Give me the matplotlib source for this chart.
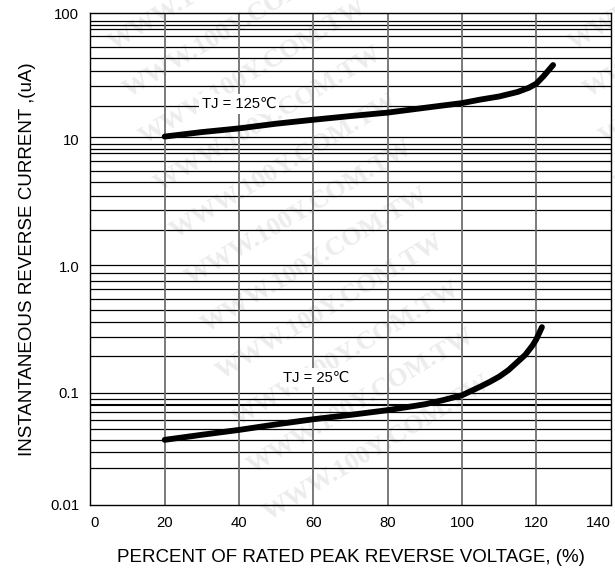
import numpy as np
import matplotlib.pyplot as plt
from matplotlib.ticker import NullLocator

plt.rcParams['font.family'] = ['Liberation Sans', 'DejaVu Sans']

# values
pct_125 = [20, 30, 40, 50, 60, 70, 80, 90, 100, 105, 110, 115, 118, 120, 122, 124.5]
cur_125 = [10.6, 11.5, 12.3, 13.4, 14.4, 15.4, 16.4, 17.9, 19.5, 20.8, 22.0, 23.9, 25.8, 27.8, 32.0, 39.0]

pct_25 = [20, 30, 40, 50, 60, 70, 80, 90, 95, 100, 105, 107.5, 110, 112.5, 115, 117, 119, 120, 121.5]
cur_25 = [0.0424, 0.0465, 0.0508, 0.0562, 0.0617, 0.0668, 0.0728, 0.081, 0.0875, 0.0955,
          0.112, 0.122, 0.134, 0.151, 0.176, 0.199, 0.237, 0.265, 0.33]

x_ticks = [0, 20, 40, 60, 80, 100, 120, 140]
y_ticks = [0.01302, 0.1, 1, 10, 100]
y_labels = ['0.01', '0.1', '1.0', '10', '100']

# the printed grid of the datasheet (not a clean log grid)
h_grid = [87.4, 80.8, 75.5, 66.2, 54.5, 44.1, 35.0, 26.5, 18.5,
          10.5, 9.21, 8.46, 7.79, 6.80, 5.67, 4.61, 3.61, 2.77, 1.93,
          1.02, 0.885, 0.769, 0.665, 0.554, 0.454, 0.363, 0.275, 0.195,
          0.1002, 0.0898, 0.0796, 0.0701, 0.0606, 0.0517, 0.0421, 0.034, 0.0256]

W, H = 615, 568
fig = plt.figure(figsize=(W / 100, H / 100), dpi=100)

# watermark
for i in range(-2, 11):
    for dx in (0, 460):
        fig.text((110 + 15.5 * i + dx) / W, 1 - (45 + 47 * i) / H, 'WWW.100Y.COM.TW',
                 rotation=31, rotation_mode='anchor', ha='left', va='center',
                 fontsize=19, family='Liberation Serif', weight='bold',
                 color='#ececec', zorder=-1)

ax = fig.add_axes([90.3 / W, 1 - 504.7 / H, 520.4 / W, 491.4 / H])
ax.patch.set_alpha(0)
ax.set_yscale('log')
ax.set_xlim(0, 140)
ax.set_ylim(y_ticks[0], 100)
ax.set_yticks(y_ticks, y_labels)
ax.yaxis.set_minor_locator(NullLocator())
ax.set_xticks(x_ticks)
ax.tick_params(length=0, pad=8, labelsize=10.7)
lbls = ax.get_xticklabels()
lbls[0].set_ha('left')
lbls[-1].set_ha('right')

for v in h_grid:
    ax.axhline(v, color='black', lw=1.5 if v == 0.0796 else 0.9, zorder=1)
for v in x_ticks[1:-1]:
    ax.axvline(v, color='#707070', lw=1.3, zorder=1)
for s in ax.spines.values():
    s.set_linewidth(1.0)

ax.plot(pct_125, cur_125, color='black', lw=4.2, solid_capstyle='round', zorder=3)
ax.plot(pct_25, cur_25, color='black', lw=4.2, solid_capstyle='round', zorder=3)

ax.text(40.1, 19.2, 'TJ = 125\u2103', fontsize=10.6, ha='center', va='center', zorder=2,
        bbox=dict(facecolor='white', edgecolor='none', pad=2))
ax.text(60.7, 0.132, 'TJ = 25\u2103', fontsize=10.6, ha='center', va='center', zorder=2,
        bbox=dict(facecolor='white', edgecolor='none', pad=2))

ax.set_xlabel('PERCENT OF RATED PEAK REVERSE VOLTAGE, (%)', fontsize=13.5, labelpad=14)
ax.set_ylabel('INSTANTANEOUS REVERSE CURRENT ,(uA)', fontsize=13.5, labelpad=10)

fig.savefig('out.png', dpi=100)
